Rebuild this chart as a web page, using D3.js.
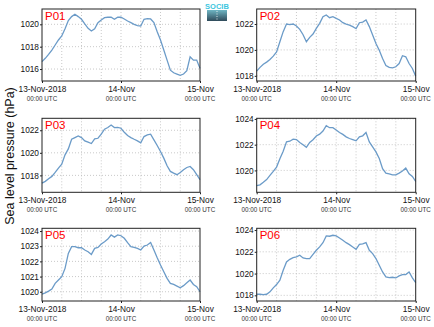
<!DOCTYPE html>
<html><head><meta charset="utf-8">
<script src="https://cdn.jsdelivr.net/npm/d3@7"></script>
<style>body{margin:0;background:#fff}svg{display:block;font-family:"Liberation Sans",Arial,Helvetica,sans-serif}</style>
</head><body><svg id="c" width="434" height="327"></svg>
<script>
// ---- data (hourly, 13-Nov-2018 00:00 UTC to 15-Nov 00:00 UTC) ----
const panelNames = ["P01","P02","P03","P04","P05","P06"];
const p01 = [1016.66,1016.96,1017.31,1017.70,1018.15,1018.60,1018.96,1019.60,1020.33,1020.69,1020.90,1020.69,1020.45,1020.03,1019.64,1019.40,1019.60,1020.15,1020.39,1020.60,1020.63,1020.63,1020.45,1020.63,1020.63,1020.48,1020.30,1020.15,1020.00,1019.88,1019.85,1020.45,1020.50,1020.48,1020.15,1019.34,1018.60,1017.70,1016.80,1015.90,1015.67,1015.55,1015.43,1015.55,1015.85,1017.10,1016.80,1016.80,1016.06];
const p02 = [1018.36,1018.65,1018.90,1019.06,1019.26,1019.52,1019.85,1020.63,1021.41,1022.00,1021.95,1022.00,1021.85,1021.59,1021.17,1020.63,1020.97,1021.23,1021.66,1022.05,1022.57,1022.70,1022.49,1022.57,1022.44,1022.31,1022.10,1022.00,1021.92,1021.80,1021.64,1022.10,1022.15,1022.31,1021.80,1021.15,1020.50,1019.97,1019.34,1018.80,1018.65,1018.62,1018.70,1018.95,1019.55,1019.47,1018.95,1018.57,1017.97];
const p03 = [1017.32,1017.47,1017.71,1017.91,1018.26,1018.65,1019.00,1019.82,1020.35,1021.20,1021.35,1021.50,1021.35,1021.06,1020.94,1020.82,1021.24,1021.29,1021.65,1022.09,1022.24,1022.47,1022.24,1022.26,1022.18,1021.82,1021.53,1021.35,1021.20,1021.06,1020.88,1021.44,1021.59,1021.65,1021.15,1020.65,1020.12,1019.53,1018.85,1018.35,1018.20,1018.06,1018.26,1018.50,1018.70,1018.79,1018.50,1018.06,1017.62];
const p04 = [1018.82,1018.88,1019.08,1019.29,1019.61,1019.92,1020.26,1020.91,1021.49,1022.22,1022.27,1022.43,1022.40,1022.17,1022.00,1021.80,1022.17,1022.38,1022.67,1022.82,1023.06,1023.48,1023.32,1023.32,1023.14,1022.95,1022.80,1022.61,1022.48,1022.40,1022.30,1022.61,1022.69,1022.95,1022.22,1021.83,1021.44,1020.92,1020.13,1019.79,1019.74,1019.66,1019.66,1019.79,1019.95,1020.18,1019.74,1019.53,1019.14];
const p05 = [1019.85,1019.93,1020.04,1020.18,1020.55,1020.77,1020.99,1021.54,1022.53,1022.97,1022.97,1022.90,1022.90,1022.75,1022.64,1022.46,1022.86,1022.92,1023.14,1023.30,1023.47,1023.74,1023.60,1023.74,1023.69,1023.52,1023.23,1022.97,1022.92,1022.86,1022.75,1023.01,1023.08,1023.25,1022.75,1022.24,1021.76,1021.32,1020.88,1020.55,1020.48,1020.37,1020.26,1020.40,1020.59,1020.77,1020.48,1020.33,1020.00];
const p06 = [1018.10,1018.10,1018.07,1018.10,1018.32,1018.69,1018.99,1019.39,1020.31,1021.07,1021.31,1021.47,1021.53,1021.68,1021.44,1021.38,1021.38,1021.77,1022.14,1022.45,1022.84,1023.46,1023.43,1023.52,1023.46,1023.27,1023.06,1022.84,1022.66,1022.45,1022.23,1022.69,1022.72,1022.84,1022.14,1021.83,1021.38,1020.76,1020.15,1019.69,1019.63,1019.66,1019.60,1019.79,1019.91,1019.91,1020.15,1019.60,1019.17];
const series = [p01,p02,p03,p04,p05,p06];
const yDomains = [[1014.93,1021.37],[1017.6,1023.16],[1016.5,1023.06],[1018.3,1024.05],[1019.39,1024.18],[1017.48,1024.16]];
const yTicks = [[1016,1018,1020],[1018,1020,1022],[1018,1020,1022],[1020,1022,1024],[1020,1021,1022,1023,1024],[1018,1020,1022,1024]];
const xTickHours = [0,24,48];
const xTickLabels = ["13-Nov-2018","14-Nov","15-Nov"];
const xTickSub = "00:00 UTC";
const gridHours = [6,12,18,24,30,36,42];
const yTitle = "Sea level pressure (hPa)";

// ---- layout ----
const cols = [[42,200],[256.7,415.7]];
const rows = [[9,81],[118.3,192.3],[228.3,301]];
const svg = d3.select("#c");
svg.append("rect").attr("width",434).attr("height",327).attr("fill","#fff");

series.forEach((vals,i)=>{
  const [x0,x1] = cols[i%2], [y0,y1] = rows[Math.floor(i/2)];
  const x = d3.scaleLinear().domain([0,48]).range([x0,x1]);
  const y = d3.scaleLinear().domain(yDomains[i]).range([y1,y0]);
  const g = svg.append("g");
  // grid
  g.selectAll(".vg").data(gridHours).join("line")
    .attr("x1",d=>x(d)).attr("x2",d=>x(d)).attr("y1",y0).attr("y2",y1)
    .attr("stroke","#bbb").attr("stroke-width",0.8).attr("stroke-dasharray","1,2");
  g.selectAll(".hg").data(yTicks[i]).join("line")
    .attr("x1",x0).attr("x2",x1).attr("y1",d=>y(d)).attr("y2",d=>y(d))
    .attr("stroke","#bbb").attr("stroke-width",0.8).attr("stroke-dasharray","1,2");
  // line
  g.append("path").datum(vals)
    .attr("d",d3.line().x((d,k)=>x(k)).y(d=>y(d)))
    .attr("fill","none").attr("stroke","#6b9bc8").attr("stroke-width",1.3);
  // frame
  g.append("rect").attr("x",x0).attr("y",y0).attr("width",x1-x0).attr("height",y1-y0)
    .attr("fill","none").attr("stroke","#222").attr("stroke-width",1);
  // y ticks
  const ya = d3.axisLeft(y).tickValues(yTicks[i]).tickSize(2).tickPadding(1).tickFormat(d3.format("d"));
  const yg = g.append("g").attr("transform",`translate(${x0},0)`).call(ya);
  yg.select(".domain").remove();
  yg.selectAll("text").attr("font-size",8.3).attr("fill","#111").attr("font-family","Liberation Sans, Arial, sans-serif");
  yg.selectAll("line").attr("stroke","#222");
  // x ticks
  const xa = d3.axisBottom(x).tickValues(xTickHours).tickSize(2).tickFormat((d,k)=>xTickLabels[k]);
  const xg = g.append("g").attr("transform",`translate(0,${y1})`).call(xa);
  xg.select(".domain").remove();
  xg.selectAll("line").attr("stroke","#222");
  xg.selectAll("text").attr("font-size",8.3).attr("fill","#111").attr("dy",null).attr("y",10.5)
    .attr("font-family","Liberation Sans, Arial, sans-serif");
  g.selectAll(".sub").data(xTickHours).join("text")
    .attr("x",d=>x(d)).attr("y",y1+19.7).attr("text-anchor","middle")
    .attr("font-size",6.3).attr("fill","#333").text(xTickSub);
  // panel label
  g.append("text").attr("x",x0+3).attr("y",y0+11).attr("font-size",11.5).attr("fill","#f00").text(panelNames[i]);
});

// y title
svg.append("text").attr("transform","translate(14,156) rotate(-90)").attr("text-anchor","middle")
  .attr("font-size",12.5).attr("fill","#111").text(yTitle);

// logo
const defs = svg.append("defs");
const lg = defs.append("linearGradient").attr("id","lg").attr("x1",0).attr("y1",0).attr("x2",0).attr("y2",1);
lg.append("stop").attr("offset",0).attr("stop-color","#6fb6c4");
lg.append("stop").attr("offset",1).attr("stop-color","#2f4a5a");
svg.append("rect").attr("x",207).attr("y",10).attr("width",20).attr("height",11).attr("fill","url(#lg)");
svg.append("line").attr("x1",217).attr("x2",217).attr("y1",11).attr("y2",20).attr("stroke","#fff").attr("stroke-dasharray","1,1.5").attr("stroke-width",0.8);
svg.append("text").attr("x",217).attr("y",9).attr("text-anchor","middle").attr("font-size",7.5).attr("font-weight","bold").attr("fill","#3cc6e0").text("SOCIB");
</script></body></html>
